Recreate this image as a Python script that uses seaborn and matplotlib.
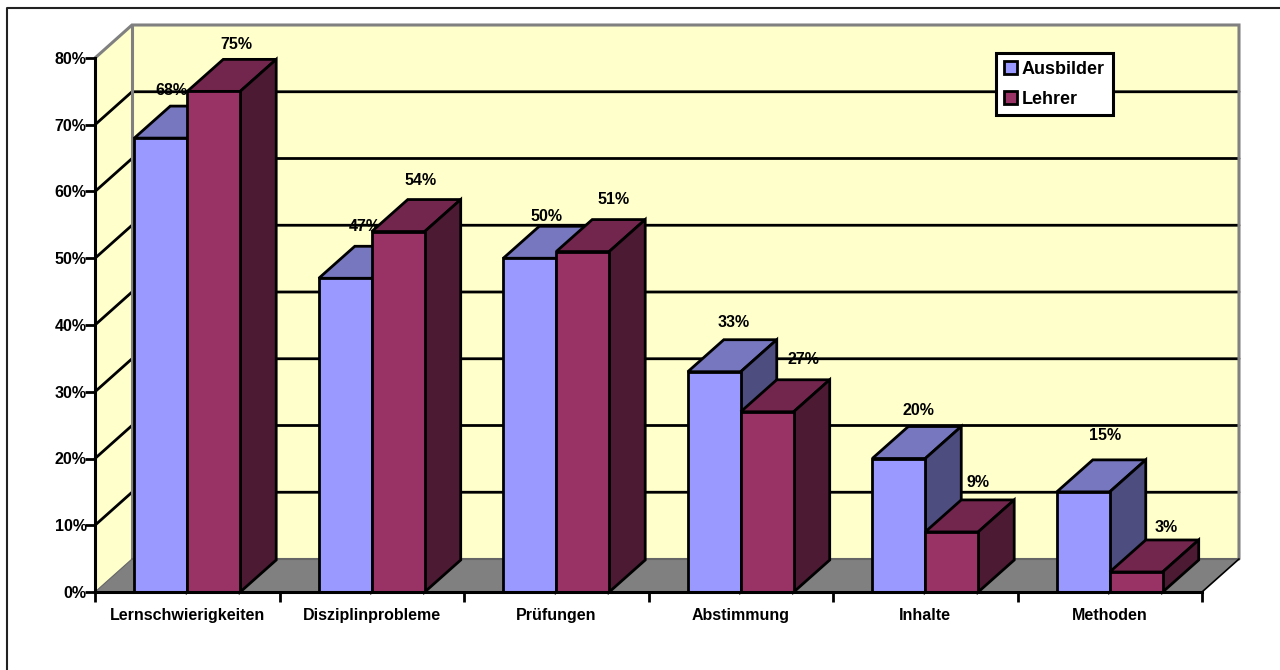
import matplotlib
matplotlib.use("Agg")
import matplotlib.pyplot as plt
from matplotlib.lines import Line2D
from matplotlib.ticker import FuncFormatter
import pandas as pd
import seaborn as sns

categories = ["Lernschwierigkeiten", "Disziplinprobleme", "Prüfungen",
              "Abstimmung", "Inhalte", "Methoden"]
ausbilder = [68, 47, 50, 33, 20, 15]
lehrer = [75, 54, 51, 27, 9, 3]
y_ticks = [0, 10, 20, 30, 40, 50, 60, 70, 80]

# (px right of bar centre, px above bar top) for each value label
offs_a = [(10.5, 48), (19, 52), (16.5, 42), (19, 49), (19.5, 48), (22, 56)]
offs_l = [(22.5, 47), (22, 51), (30.5, 52), (36, 52), (26.5, 49), (30, 44)]

FRONT = {"Ausbilder": "#9999FF", "Lehrer": "#993366"}
TOP = {"Ausbilder": "#7777BF", "Lehrer": "#73264D"}
SIDE = {"Ausbilder": "#4D4D80", "Lehrer": "#4D1A33"}
WALL, FLOOR, EDGE = "#FFFFCC", "#808080", "#808080"
FS = 11.5
LW = 2.0

sns.set_theme(style="white")
plt.rcParams["font.family"] = ["Liberation Sans", "DejaVu Sans"]
plt.rcParams["font.weight"] = "bold"

W, H = 1280, 670
fig = plt.figure(figsize=(W / 100, H / 100), dpi=100, facecolor="white")
ax = fig.add_axes([95 / W, (H - 592) / H, 1107 / W, 534 / H])
ax.set_facecolor("none")

df = pd.DataFrame({
    "Kategorie": categories * 2,
    "Wert": ausbilder + lehrer,
    "Gruppe": ["Ausbilder"] * len(categories) + ["Lehrer"] * len(categories),
})
sns.barplot(data=df, x="Kategorie", y="Wert", hue="Gruppe", palette=FRONT,
            width=0.574, gap=0, dodge=True, saturation=1,
            edgecolor="black", linewidth=LW, ax=ax)
ax.set_xlim(-0.5, 5.5)
ax.set_ylim(0, 80)
ax.set_xlabel("")
ax.set_ylabel("")

# px -> data units
ux = 6 / 1107
uy = 80 / 534
wx, wy = 37 * ux, 33 * uy     # depth of the chart box
bx, by = 36 * ux, 32 * uy     # depth of a bar
x0, x1 = -0.5, 5.5

# walls and floor
ax.fill([x0 + wx, x1 + wx, x1 + wx, x0 + wx], [wy, wy, 80 + wy, 80 + wy],
        color=WALL, lw=0, zorder=0.1, clip_on=False)
ax.fill([x0, x0 + wx, x0 + wx, x0], [0, wy, 80 + wy, 80],
        color=WALL, lw=0, zorder=0.1, clip_on=False)
ax.fill([x0, x0 + wx, x1 + wx, x1], [0, wy, wy, 0],
        color=FLOOR, lw=0, zorder=0.2, clip_on=False)
for v in y_ticks[1:-1]:
    ax.plot([x0, x0 + wx, x1 + wx], [v, v + wy, v + wy], color="black", lw=LW,
            zorder=0.3, clip_on=False, solid_joinstyle="miter")
ax.plot([x0, x0 + wx, x1 + wx, x1 + wx], [80, 80 + wy, 80 + wy, wy], color=EDGE,
        lw=2.2, zorder=0.4, clip_on=False, solid_joinstyle="miter")
ax.plot([x0 + wx, x0 + wx], [wy, 80 + wy], color=EDGE, lw=2.2, zorder=0.4, clip_on=False)
ax.plot([x0 + wx, x1 + wx], [wy, wy], color="#666666", lw=1.5, zorder=0.4, clip_on=False)
ax.plot([x0, x0 + wx], [0, wy], color="#666666", lw=0.8, zorder=0.4, clip_on=False)
ax.plot([x1, x1 + wx], [0, wy], color="black", lw=1.2, zorder=0.4, clip_on=False)

# the 3D part of each bar, built from the bars seaborn drew
for k, (name, values, offs) in enumerate([("Ausbilder", ausbilder, offs_a),
                                          ("Lehrer", lehrer, offs_l)]):
    for i, patch in enumerate(ax.containers[k].patches):
        xa, w, h = patch.get_x(), patch.get_width(), patch.get_height()
        z = 2 + i + k * 0.3
        ax.fill([xa, xa + bx, xa + w + bx, xa + w], [h, h + by, h + by, h],
                facecolor=TOP[name], edgecolor="black", lw=LW, zorder=z,
                clip_on=False, joinstyle="miter")
        ax.fill([xa + w, xa + w + bx, xa + w + bx, xa + w], [0, by, h + by, h],
                facecolor=SIDE[name], edgecolor="black", lw=LW, zorder=z,
                clip_on=False, joinstyle="miter")
        patch.set_zorder(z + 0.05)
        patch.set_clip_on(False)
        dx, dy = offs[i]
        ax.annotate(f"{values[i]}%", (xa + w / 2, h),
                    xytext=(dx * 0.72, dy * 0.72), textcoords="offset points",
                    ha="center", va="center", fontsize=FS, fontweight="bold",
                    color="black", zorder=z + (0.1 if k else 0.2))

# axes
sns.despine(ax=ax, top=True, right=True)
for s in ("left", "bottom"):
    ax.spines[s].set_color("black")
    ax.spines[s].set_linewidth(2.2)
ax.spines["left"].set_zorder(1)
ax.spines["bottom"].set_zorder(50)
ax.set_yticks(y_ticks)
ax.yaxis.set_major_formatter(FuncFormatter(lambda v, _: f"{v:.0f}%"))
ax.tick_params(axis="y", left=True, length=7, width=LW, color="black", pad=-1,
               labelsize=FS, labelcolor="black")
ax.set_xticks(range(len(categories)))
ax.set_xticklabels(categories)
ax.set_xticks([x0 + i for i in range(len(categories) + 1)], minor=True)
ax.tick_params(axis="x", which="major", bottom=False, length=0, pad=11.5,
               labelsize=FS, labelcolor="black")
ax.tick_params(axis="x", which="minor", bottom=True, length=7, width=LW, color="black")
for lab in ax.get_xticklabels() + ax.get_yticklabels():
    lab.set_fontweight("bold")

# legend
handles, labels = ax.get_legend_handles_labels()
leg = ax.legend(handles, labels, loc="upper left",
                bbox_to_anchor=(996 / W, (H - 53) / H),
                bbox_transform=fig.transFigure, frameon=True, fancybox=False,
                edgecolor="black", facecolor="white", framealpha=1,
                labelcolor="black",
                prop={"size": 13, "weight": "bold"}, borderaxespad=0,
                borderpad=0.42, handlelength=0.72, handleheight=0.72,
                handletextpad=0.3, labelspacing=0.72)
leg.get_frame().set_linewidth(2.2)
leg.set_zorder(60)

# outer chart border
fig.add_artist(Line2D([7 / W, 7 / W, 1], [0, (H - 8) / H, (H - 8) / H],
                      color="#222222", lw=1.5, transform=fig.transFigure))

fig.savefig("out.png", dpi=100, facecolor="white")
